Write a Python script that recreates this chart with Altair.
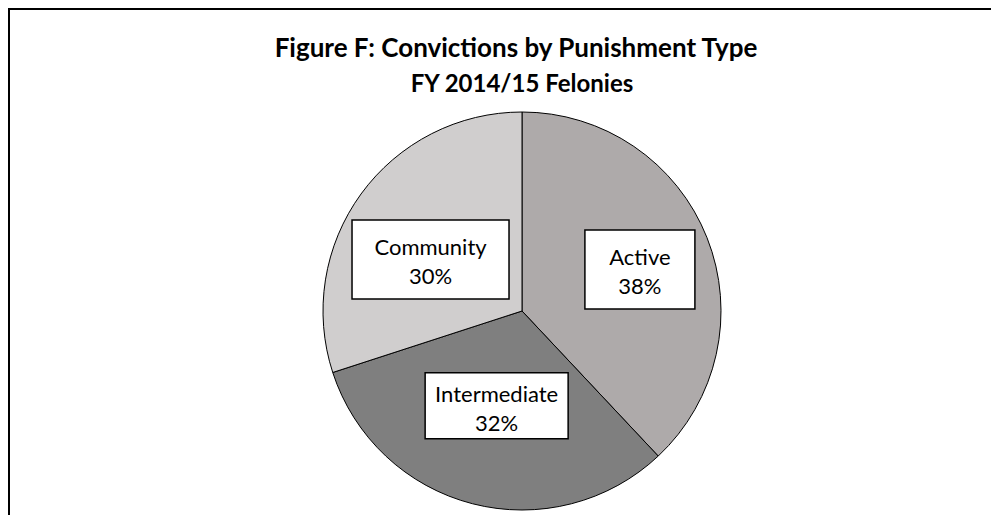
import math
import altair as alt
import pandas as pd

# ---- data ----
categories = ["Active", "Intermediate", "Community"]
values = [38, 32, 30]
colors = ["#AEAAAA", "#7F7F7F", "#D0CECE"]
title_text = "Figure F: Convictions by Punishment Type"
subtitle_text = "FY 2014/15 Felonies"

# ---- styling (label placement / box sizes) ----
label_radius = [125, 98, 105]
label_angle_shift = [2.2, 0.6, -6.6]   # degrees, small nudges like the original
box_w = [110, 143, 157]
box_h = [79, 66, 79]
PIE_R = 199
W, H = 983, 507
CX, CY = 514, 303   # pie centre inside the plot area

total = sum(values)
rows = []
cum = 0.0
for i, (c, v) in enumerate(zip(categories, values)):
    mid = (cum + v / 2) / total * 2 * math.pi + math.radians(label_angle_shift[i])
    cum += v
    cx = label_radius[i] * math.sin(mid)
    cy = label_radius[i] * math.cos(mid)
    rows.append(dict(cat=c, val=v, idx=i, label=f"{c}\n{v}%", cx=cx, cy=cy,
                     x1=cx - box_w[i] / 2, x2=cx + box_w[i] / 2,
                     y1=cy - box_h[i] / 2, y2=cy + box_h[i] / 2))
df = pd.DataFrame(rows)

xs = alt.Scale(domain=[-CX, W - CX], nice=False, zero=False)
ys = alt.Scale(domain=[CY - H, CY], nice=False, zero=False)

one = pd.DataFrame({"a": [0]})
top_rule = alt.Chart(one).mark_rule(color="black", strokeWidth=2).encode(
    x=alt.value(0), x2=alt.value(W), y=alt.value(1))
left_rule = alt.Chart(one).mark_rule(color="black", strokeWidth=2).encode(
    x=alt.value(1), y=alt.value(0), y2=alt.value(H))

title_df = pd.DataFrame({"t": [title_text]})
sub_df = pd.DataFrame({"t": [subtitle_text]})
title = alt.Chart(title_df).mark_text(font="Lato", fontSize=26, fontWeight="bold", color="black",
                                      align="center", baseline="alphabetic", dx=-6).encode(
    x=alt.XDatum(0, type="quantitative", scale=xs, axis=None), y=alt.value(49), text="t:N")
subtitle = alt.Chart(sub_df).mark_text(font="Lato", fontSize=24, fontWeight="bold", color="black",
                                       align="center", baseline="alphabetic").encode(
    x=alt.XDatum(0, type="quantitative", scale=xs, axis=None), y=alt.value(84), text="t:N")

arc = alt.Chart(df).mark_arc(outerRadius=PIE_R, stroke="black", strokeWidth=1).encode(
    theta=alt.Theta("val:Q", stack=True),
    color=alt.Color("cat:N", scale=alt.Scale(domain=categories, range=colors), legend=None),
    order=alt.Order("idx:Q"),
    x=alt.XDatum(0, type="quantitative", scale=xs, axis=None),
    y=alt.YDatum(0, type="quantitative", scale=ys, axis=None),
)

boxes = alt.Chart(df).mark_rect(fill="white", stroke="black", strokeWidth=1.5).encode(
    x=alt.X("x1:Q", scale=xs, axis=None), x2="x2:Q",
    y=alt.Y("y1:Q", scale=ys, axis=None), y2="y2:Q",
)

labels = alt.Chart(df).mark_text(font="Lato", fontSize=22, lineBreak="\n", lineHeight=29,
                                 baseline="middle", align="center", color="black", dy=-11).encode(
    x=alt.X("cx:Q", scale=xs, axis=None),
    y=alt.Y("cy:Q", scale=ys, axis=None),
    text="label:N",
)

chart = alt.layer(top_rule, left_rule, title, subtitle, arc, boxes, labels).properties(
    width=W, height=H, autosize="none",
    padding={"left": 0, "top": 0, "right": 0, "bottom": 0},
).configure_view(stroke=None)

chart.save("out.html", embed_options={"renderer": "svg", "actions": False})
